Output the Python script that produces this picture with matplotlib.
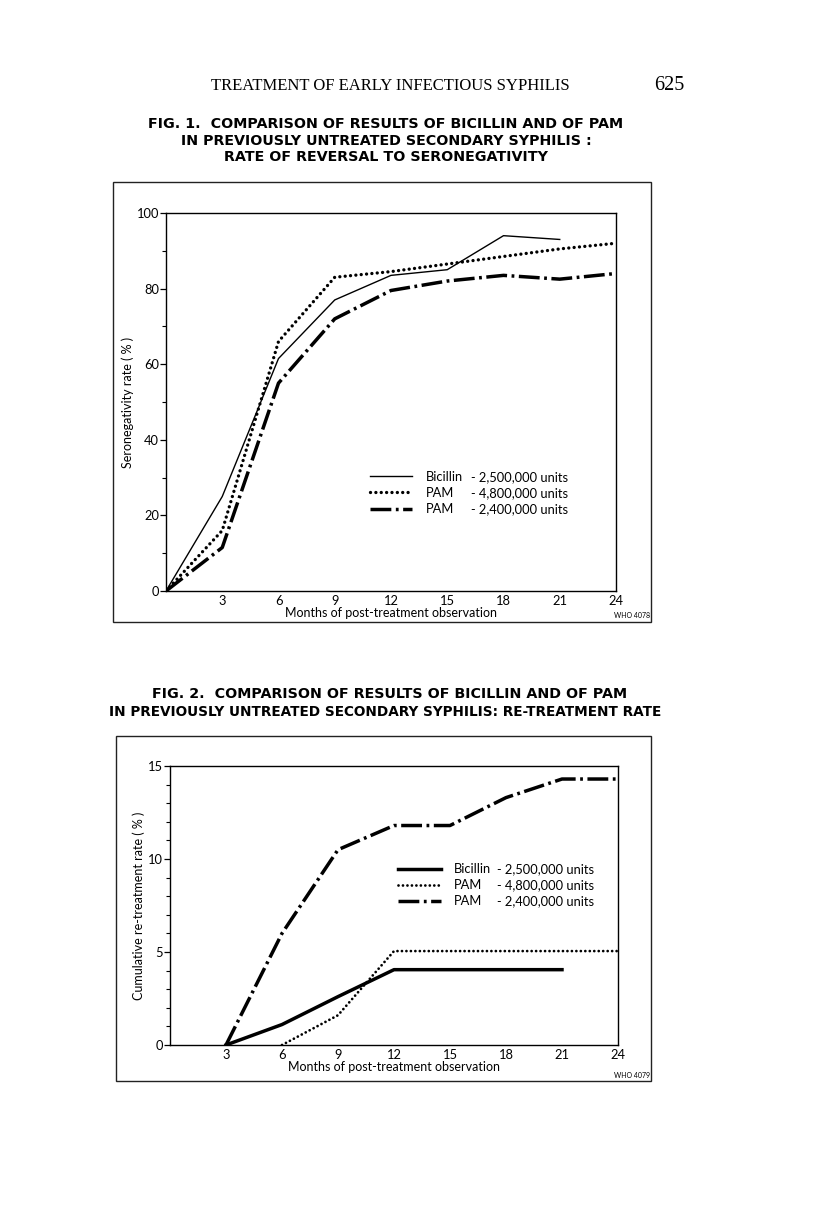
import numpy as np
import matplotlib.pyplot as plt
from matplotlib.patches import Rectangle
from matplotlib.lines import Line2D

# ---- data ----
months1 = [0, 3, 6, 9, 12, 15, 18, 21, 24]
bic1 = [0, 25, 61.5, 77, 83.5, 85, 94, 93]          # Bicillin stops at 21
pam48_1 = [0, 16, 66, 83, 84.5, 86.5, 88.5, 90.5, 92]
pam24_1 = [0, 11.5, 55, 72, 79.5, 82, 83.5, 82.5, 84]

months2 = [3, 6, 9, 12, 15, 18, 21, 24]
bic2 = [0, 1.1, 2.6, 4.05, 4.05, 4.05, 4.05]         # 3..21
months2_pam48 = [6, 9, 12, 15, 18, 21, 24]
pam48_2 = [0, 1.6, 5.05, 5.05, 5.05, 5.05, 5.05]
pam24_2 = [0, 6.0, 10.5, 11.8, 11.8, 13.3, 14.3, 14.3]

names = ['Bicillin', 'PAM', 'PAM']
doses = ['- 2,500,000 units', '- 4,800,000 units', '- 2,400,000 units']
xticks = [3, 6, 9, 12, 15, 18, 21, 24]

W, H = 816, 1226
fig = plt.figure(figsize=(W / 100, H / 100), dpi=100)
fig.patch.set_facecolor('white')

sans = 'Lato'

def fx(px):
    return px / W

def fy(py):
    return 1 - py / H

# page header
fig.text(fx(390), fy(86), 'TREATMENT OF EARLY INFECTIOUS SYPHILIS', ha='center', va='center',
         family='Liberation Serif', fontsize=12)
fig.text(fx(669), fy(85), '625', ha='center', va='center', family='Liberation Serif', fontsize=14.5)

tkw = dict(ha='center', va='center', family='DejaVu Sans', fontweight='bold', fontsize=10.3)
fig.text(fx(386), fy(124), 'FIG. 1.  COMPARISON OF RESULTS OF BICILLIN AND OF PAM', **tkw)
fig.text(fx(386), fy(141), 'IN PREVIOUSLY UNTREATED SECONDARY SYPHILIS :', **tkw)
fig.text(fx(386), fy(157), 'RATE OF REVERSAL TO SERONEGATIVITY', **tkw)
fig.text(fx(390), fy(694), 'FIG. 2.  COMPARISON OF RESULTS OF BICILLIN AND OF PAM', **tkw)
tkw2 = dict(tkw, fontsize=9.8)
fig.text(fx(385), fy(712), 'IN PREVIOUSLY UNTREATED SECONDARY SYPHILIS: RE-TREATMENT RATE', **tkw2)

# outer boxes
for (x0, y0, x1, y1) in [(113, 182, 651, 622), (116, 736, 651, 1081)]:
    fig.patches.append(Rectangle((fx(x0), fy(y1)), fx(x1 - x0), (y1 - y0) / H, transform=fig.transFigure,
                                 fill=False, lw=1.0, ec='#222222'))

dashdot = (6, 1.3, 0.8, 1.3)


def style(ax, xlabel, ylabel):
    for s in ax.spines.values():
        s.set_linewidth(1.0)
    ax.set_xticks(xticks)
    ax.tick_params(axis='x', length=0, pad=3, labelsize=9.3)
    ax.tick_params(axis='y', which='major', length=4, width=0.9, labelsize=9.3, pad=1)
    ax.tick_params(axis='y', which='minor', length=3, width=0.8)
    for lab in ax.get_xticklabels() + ax.get_yticklabels():
        lab.set_family(sans)
    ax.set_xlabel(xlabel, family=sans, fontsize=9, labelpad=0)
    ax.set_ylabel(ylabel, family=sans, fontsize=9, labelpad=2)


def legend(ax, handles, x, y, dx):
    leg = ax.legend(handles, names, loc='upper left', bbox_to_anchor=(x, y), frameon=False,
                    prop={'family': sans, 'size': 9.3}, handlelength=3.3, handletextpad=1.0,
                    labelspacing=0.32, borderpad=0, borderaxespad=0)
    ax.add_artist(leg)
    blank = [Line2D([], [], lw=0) for _ in doses]
    ax.legend(blank, doses, loc='upper left', bbox_to_anchor=(x + dx, y), frameon=False,
              prop={'family': sans, 'size': 9.3}, handlelength=0, handletextpad=0,
              labelspacing=0.32, borderpad=0, borderaxespad=0)


# ---- Fig 1 ----
ax1 = fig.add_axes([fx(166), fy(591), fx(450), 378 / H])
l1, = ax1.plot(months1[:len(bic1)], bic1, color='black', lw=1.0)
l2, = ax1.plot(months1, pam48_1, color='black', lw=2.4, dashes=(0.01, 1.6), dash_capstyle='round')
l3, = ax1.plot(months1, pam24_1, color='black', lw=2.5, dashes=dashdot)
ax1.set_xlim(0, 24)
ax1.set_ylim(0, 100)
ax1.set_yticks([0, 20, 40, 60, 80, 100])
ax1.set_yticks([10, 30, 50, 70, 90], minor=True)
style(ax1, 'Months of post-treatment observation', 'Seronegativity rate ( % )')
legend(ax1, [l1, l2, l3], 0.453, 0.318, 0.225)
fig.text(fx(632), fy(616), 'WHO 4078', ha='center', va='center', family=sans, fontsize=5)

# ---- Fig 2 ----
ax2 = fig.add_axes([fx(170), fy(1045), fx(448), 279 / H])
m1, = ax2.plot(months2[:len(bic2)], bic2, color='black', lw=2.5)
m2, = ax2.plot(months2_pam48, pam48_2, color='black', lw=2.0, dashes=(0.01, 1.6), dash_capstyle='round')
m3, = ax2.plot(months2, pam24_2, color='black', lw=2.5, dashes=dashdot)
ax2.set_xlim(0, 24)
ax2.set_ylim(0, 15)
ax2.set_yticks([0, 5, 10, 15])
ax2.set_yticks([1, 2, 3, 4, 6, 7, 8, 9, 11, 12, 13, 14], minor=True)
style(ax2, 'Months of post-treatment observation', 'Cumulative re-treatment rate ( % )')
legend(ax2, [m1, m2, m3], 0.509, 0.652, 0.22)
fig.text(fx(632), fy(1076), 'WHO 4079', ha='center', va='center', family=sans, fontsize=5)

fig.savefig('out.png', dpi=100, facecolor='white')
